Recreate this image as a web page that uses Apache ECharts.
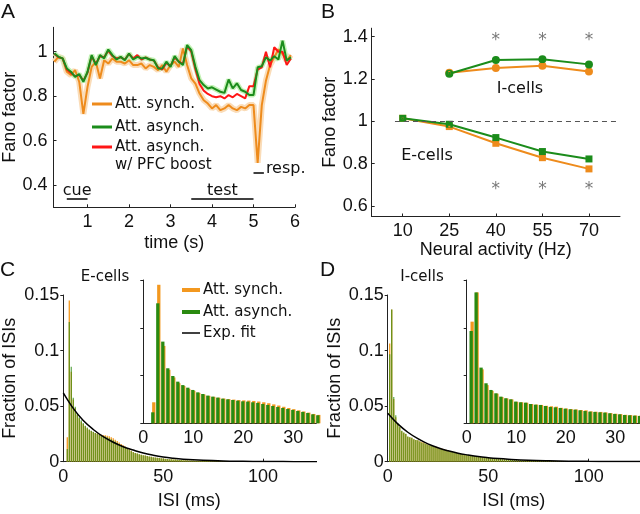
<!DOCTYPE html>
<html>
<head>
<meta charset="utf-8">
<script src="https://cdn.jsdelivr.net/npm/echarts@6.0.0/dist/echarts.min.js"></script>
<style>
  html, body { margin: 0; padding: 0; background: #fff; }
  #chart { width: 640px; height: 514px; }
</style>
</head>
<body>
<div id="chart"></div>
<script>
// ---------- panel A: Fano factor over the trial (0.1 s steps from 0.2 s) ----------
const synchA = [0.955,0.977,0.97,0.91,0.895,0.917,0.865,0.72,0.842,0.932,0.955,0.88,0.962,0.947,0.97,0.955,0.955,0.947,0.962,0.94,
  0.94,0.947,0.925,0.94,0.932,0.917,0.94,0.91,0.94,0.955,0.932,1.015,0.94,0.88,0.857,0.812,0.782,0.767,0.745,0.76,
  0.737,0.745,0.76,0.745,0.737,0.752,0.745,0.76,0.76,0.50,0.76,0.87,0.94,0.975,1.01,0.99,0.96,0.985];
const asynchA = [0.993,0.977,0.97,0.925,0.91,0.887,0.9,0.865,0.91,0.985,0.94,0.985,0.97,1.01,0.985,0.965,0.977,0.962,0.992,0.965,
  0.977,0.97,0.973,0.965,0.962,0.925,0.925,0.955,0.932,0.98,0.955,0.94,1.03,1.007,0.932,0.872,0.85,0.835,0.84,0.83,
  0.82,0.815,0.875,0.835,0.858,0.828,0.82,0.805,0.805,0.93,0.935,0.975,0.96,0.98,0.965,1.05,0.96,0.975];
const pfcA = [0.99,0.975,0.97,0.92,0.905,0.89,0.895,0.87,0.905,0.98,0.945,0.98,0.975,1.005,0.98,0.97,0.975,0.965,0.99,0.97,
  0.985,0.965,0.975,0.965,0.96,0.93,0.92,0.95,0.935,0.975,0.955,0.945,1.025,1.0,0.92,0.855,0.825,0.81,0.80,0.795,
  0.80,0.79,0.805,0.795,0.81,0.80,0.79,0.845,0.845,0.92,0.93,1.0,0.93,1.02,1.0,1.0,0.94,0.97];
const timeA = synchA.map((_, i) => +(0.2 + 0.1 * i).toFixed(1));

const epochNames = ['cue', 'test', 'resp.'];
const epochStart = [0.5, 3.5, 5.0];
const epochEnd = [1.0, 5.0, 5.25];
const epochLevel = [0.34, 0.34, 0.455];

// ---------- panel B: Fano factor vs rate ----------
const rateE = [10, 25, 40, 55, 70];
const eSynchB = [1.014, 0.975, 0.896, 0.828, 0.775];
const eAsynchB = [1.014, 0.986, 0.923, 0.857, 0.822];
const eErrB = [0.004, 0.004, 0.005, 0.005, 0.006];
const rateI = [25, 40, 55, 70];
const iSynchB = [1.23, 1.252, 1.263, 1.235];
const iAsynchB = [1.225, 1.29, 1.293, 1.269];
const iSynchErr = [0.008, 0.012, 0.012, 0.012];
const iAsynchErr = [0.008, 0.015, 0.015, 0.015];
const sigRates = [40, 55, 70];
const sigLevels = [1.4, 0.695];

// ---------- panels C, D: ISI histograms, 1 ms bins ----------
// ISI 1..35 ms
const eSynchHead = [0,0.022,0.145,0.081,0.056,0.048,0.042,0.039,0.036,0.034,0.0318,0.0302,0.0287,0.0277,0.0268,0.0259,0.0253,0.0248,
  0.0243,0.024,0.0238,0.0234,0.0228,0.022,0.021,0.0198,0.0186,0.0173,0.016,0.0148,0.0136,0.0124,0.0112,0.0098,0.0088];
const eAsynchHead = [0,0.0115,0.1256,0.0855,0.0576,0.0495,0.0436,0.040,0.0373,0.0349,0.0324,0.0307,0.029,0.0279,0.0269,0.0258,0.0251,0.0244,
  0.0237,0.023,0.0227,0.022,0.0213,0.0202,0.0192,0.0181,0.0171,0.016,0.015,0.014,0.0129,0.0119,0.0108,0.0094,0.0084];
const iSynchHead = [0.1064,0.137,0.0565,0.040,0.034,0.031,0.0275,0.026,0.025,0.0225,0.022,0.0215,0.0202,0.0196,0.0192,0.0183,0.0178,0.0174,
  0.0162,0.0155,0.0149,0.0145,0.0139,0.0136,0.0125,0.0121,0.0119,0.0114,0.0107,0.0100,0.0096,0.0089,0.0086,0.0082,0.0078];
const iAsynchHead = [0.0966,0.137,0.0583,0.0419,0.0349,0.0314,0.0279,0.0262,0.0251,0.0227,0.022,0.0216,0.0202,0.0195,0.0192,0.0181,0.0171,0.0167,
  0.016,0.0153,0.0147,0.0143,0.0136,0.0129,0.0122,0.0119,0.0115,0.0112,0.0105,0.0098,0.0094,0.0087,0.0084,0.008,0.0077];
// ISI 36..127 ms (same for both conditions)
const eTail = [0.0078,0.0073,0.0068,0.0063,0.0059,0.0055,0.0051,0.0047,0.0044,0.0041,
  0.0038,0.0035,0.0033,0.0031,0.0029,0.0027,0.0025,0.0023,0.0022,0.002,
  0.0019,0.0018,0.0016,0.0015,0.0014,0.0013,0.0012,0.0011,0.0011,0.001,
  0.0009,0.0009,0.0008,0.0008,0.0007,0.0007,0.0006,0.0006,0.0005,0.0005,
  0.0005,0.0004,0.0004,0.0004,0.0003,0.0003,0.0003,0.0003,0.0002,0.0002,
  0.0002,0.0002,0.0002,0.0002,0.0001,0.0001,0.0001,0.0001,0.0001,0.0001,
  0.0001,0.0001,0.0001,0.0001,0.0001,0.0001,0.0001,0.0001,0.0001,0.0001,
  0,0,0,0,0,0,0,0,0,0,0,0,0,0,0,0,0,0,0,0,0,0];
const iTail = [0.0074,0.0070,0.0066,0.0063,0.0060,0.0057,0.0054,0.0051,0.0048,0.0046,
  0.0043,0.0041,0.0039,0.0037,0.0035,0.0033,0.0031,0.0029,0.0028,0.0026,
  0.0025,0.0023,0.0022,0.0021,0.0020,0.0019,0.0018,0.0017,0.0016,0.0015,
  0.0014,0.0013,0.0012,0.0012,0.0011,0.0010,0.0010,0.0009,0.0009,0.0008,
  0.0008,0.0007,0.0007,0.0007,0.0006,0.0006,0.0005,0.0005,0.0005,0.0004,
  0.0004,0.0004,0.0004,0.0003,0.0003,0.0003,0.0003,0.0003,0.0002,0.0002,
  0.0002,0.0002,0.0002,0.0002,0.0002,0.0002,0.0002,0.0002,0.0002,0.0002,
  0.0001,0.0001,0.0001,0.0001,0.0001,0.0001,0.0001,0.0001,0.0001,0.0001,0.0001,
  0.0001,0.0001,0.0001,0.0001,0.0001,0.0001,0.0001,0.0001,0.0001,0.0001,0.0001];
// exponential fit
const fitX = [0,5,10,15,20,25,30,35,40,45,50,55,60,70,80,90,100,110,127];
const eFitY = [0.062,0.048,0.037,0.029,0.0225,0.0175,0.0135,0.0105,0.0078,0.0058,0.0042,0.0031,0.0023,0.0013,0.0007,0.0004,0.0002,0.0001,0];
const iFitY = [0.0435,0.034,0.0265,0.0207,0.016,0.0125,0.0098,0.0076,0.006,0.0046,0.0036,0.0028,0.0022,0.0013,0.0008,0.0005,0.0003,0.0002,0.0001];

const isiHead = eSynchHead.map((_, i) => i + 1);
const isiAll = eSynchHead.concat(eTail).map((_, i) => i + 1);

const pairs = (xs, ys) => ys.map((v, i) => [xs[i], v]);
const fmt = v => String(+v.toFixed(2));

const FONT_AX = 'Liberation Sans';
const FONT_TXT = 'DejaVu Sans';
const colSynch = '#ee8b1c';
const colAsynch = '#1b8c1b';
const colPfc = '#ff1616';
const barGreen = '#2a8a10';
const barOrange = '#f3981f';

const chart = echarts.init(document.getElementById('chart'));

const grids = [
  { left: 53.5, top: 27.3, width: 241.5, height: 180 },   // A
  { left: 371.7, top: 28.2, width: 248.3, height: 188.3 }, // B
  { left: 63.3, top: 295, width: 251.7, height: 166.7 },  // C
  { left: 143.3, top: 280, width: 173, height: 143.3 },   // C inset
  { left: 387.7, top: 295, width: 252.3, height: 166.7 }, // D
  { left: 466.7, top: 280, width: 173.3, height: 143.3 }  // D inset
].map(g => Object.assign({ outerBoundsMode: 'none', containLabel: false }, g));

function xAx(gi, min, max, ticks, name, gap) {
  return {
    type: 'value', gridIndex: gi, min: min, max: max,
    splitLine: { show: false },
    axisLine: { lineStyle: { color: '#222', width: 1 } },
    axisTick: { inside: true, length: 3, customValues: ticks, lineStyle: { color: '#222' } },
    axisLabel: { customValues: ticks, formatter: fmt, color: '#111', fontFamily: FONT_AX, fontSize: 18, margin: 6 },
    name: name, nameLocation: 'middle', nameGap: gap,
    nameTextStyle: { color: '#111', fontFamily: FONT_AX, fontSize: 18 }
  };
}
function yAx(gi, min, max, ticks, labels, name, gap, inside, margin) {
  return {
    type: 'value', gridIndex: gi, min: min, max: max,
    splitLine: { show: false },
    axisLine: { lineStyle: { color: '#222', width: 1 } },
    axisTick: { inside: inside, length: 3, customValues: ticks, lineStyle: { color: '#222' } },
    axisLabel: { show: labels, customValues: ticks, formatter: fmt, color: '#111', fontFamily: FONT_AX, fontSize: 18, margin: margin },
    name: name, nameLocation: 'middle', nameGap: gap,
    nameTextStyle: { color: '#111', fontFamily: FONT_AX, fontSize: 18 }
  };
}

const xAxes = [
  xAx(0, 0.18, 6, [1, 2, 3, 4, 5, 6], 'time (s)', 27),
  xAx(1, 0, 80, [10, 25, 40, 55, 70], 'Neural activity (Hz)', 22),
  xAx(2, 0, 126, [0, 50, 100], 'ISI (ms)', 30),
  xAx(3, 0, 34.6, [0, 10, 20, 30], '', 0),
  xAx(4, 0, 125.5, [0, 50, 100], 'ISI (ms)', 30),
  xAx(5, 0, 35, [0, 10, 20, 30], '', 0)
];
const yAxes = [
  yAx(0, 0.3, 1.11, [0.4, 0.6, 0.8, 1], true, 'Fano factor', 34, true, 6),
  yAx(1, 0.55, 1.44, [0.6, 0.8, 1, 1.2, 1.4], true, 'Fano factor', 31, true, 4),
  yAx(2, 0, 0.15, [0, 0.05, 0.1, 0.15], true, 'Fraction of ISIs', 44, false, 4),
  yAx(3, 0, 0.15, [0, 0.05, 0.1, 0.15], false, '', 0, false, 4),
  yAx(4, 0, 0.15, [0, 0.05, 0.1, 0.15], true, 'Fraction of ISIs', 44, false, 4),
  yAx(5, 0, 0.15, [0, 0.05, 0.1, 0.15], false, '', 0, false, 4)
];

const series = [];

// A: shaded error bands, then the mean lines
series.push({
  type: 'line', xAxisIndex: 0, yAxisIndex: 0, data: pairs(timeA, synchA), symbol: 'none', silent: true, z: 1,
  lineStyle: { width: 6, color: '#fadcb8' },
  markLine: {
    symbol: 'none', silent: true,
    lineStyle: { color: '#000', width: 1.5, type: 'solid' },
    data: epochNames.map((n, i) => [
      { coord: [epochStart[i], epochLevel[i]], name: n,
        label: { show: true, formatter: n, position: i === 2 ? 'end' : 'insideMiddleTop', distance: i === 2 ? [2, 0] : 0,
          color: '#111', fontFamily: FONT_TXT, fontSize: 16, offset: i === 2 ? [0, -4] : [0, 0] } },
      { coord: [epochEnd[i], epochLevel[i]] }
    ])
  }
});
series.push({
  type: 'line', xAxisIndex: 0, yAxisIndex: 0, data: pairs(timeA, asynchA), symbol: 'none', silent: true, z: 1,
  lineStyle: { width: 5, color: '#c4f2b6' }
});
series.push({ type: 'line', xAxisIndex: 0, yAxisIndex: 0, data: pairs(timeA, synchA), symbol: 'none', z: 3,
  lineStyle: { width: 2, color: colSynch } });
series.push({ type: 'line', xAxisIndex: 0, yAxisIndex: 0, data: pairs(timeA, pfcA), symbol: 'none', z: 4,
  lineStyle: { width: 2, color: colPfc } });
series.push({ type: 'line', xAxisIndex: 0, yAxisIndex: 0, data: pairs(timeA, asynchA), symbol: 'none', z: 5,
  lineStyle: { width: 2, color: colAsynch } });

// B
function errBars(xs, ys, es, color) {
  return {
    type: 'custom', xAxisIndex: 1, yAxisIndex: 1, z: 6, silent: true,
    data: ys.map((v, i) => [xs[i], v, es[i]]),
    renderItem: (params, api) => {
      const x = api.value(0), y = api.value(1), e = api.value(2);
      const p1 = api.coord([x, y - e]), p2 = api.coord([x, y + e]);
      return { type: 'line', shape: { x1: p1[0], y1: p1[1], x2: p2[0], y2: p2[1] }, style: { stroke: color, lineWidth: 2 } };
    }
  };
}
series.push({
  type: 'line', xAxisIndex: 1, yAxisIndex: 1, data: pairs(rateE, eSynchB), z: 3,
  symbol: 'rect', symbolSize: 7, lineStyle: { width: 2, color: colSynch }, itemStyle: { color: colSynch },
  markLine: {
    symbol: 'none', silent: true, label: { show: false },
    lineStyle: { color: '#555', width: 1, type: [5, 4] },
    data: [[{ coord: [7.5, 1] }, { coord: [80, 1] }]]
  }
});
series.push({ type: 'line', xAxisIndex: 1, yAxisIndex: 1, data: pairs(rateE, eAsynchB), z: 4,
  symbol: 'rect', symbolSize: 7, lineStyle: { width: 2, color: colAsynch }, itemStyle: { color: colAsynch } });
series.push({ type: 'line', xAxisIndex: 1, yAxisIndex: 1, data: pairs(rateI, iSynchB), z: 3,
  symbol: 'circle', symbolSize: 8, lineStyle: { width: 2, color: colSynch }, itemStyle: { color: colSynch } });
series.push({ type: 'line', xAxisIndex: 1, yAxisIndex: 1, data: pairs(rateI, iAsynchB), z: 4,
  symbol: 'circle', symbolSize: 8, lineStyle: { width: 2, color: colAsynch }, itemStyle: { color: colAsynch } });
series.push(errBars(rateE, eSynchB, eErrB, colSynch));
series.push(errBars(rateE, eAsynchB, eErrB, colAsynch));
series.push(errBars(rateI, iSynchB, iSynchErr, colSynch));
series.push(errBars(rateI, iAsynchB, iAsynchErr, colAsynch));
series.push({
  type: 'scatter', xAxisIndex: 1, yAxisIndex: 1, silent: true, symbolSize: 1,
  itemStyle: { color: 'rgba(0,0,0,0)' },
  data: sigLevels.flatMap(l => sigRates.map(r => [r, l])),
  label: { show: true, formatter: '*', position: 'inside', color: '#555', fontFamily: FONT_TXT, fontSize: 17, offset: [0, 4] }
});

// C, D histograms
function histSeries(xi, xs, green, orange, bw, gap, greenAlpha) {
  return [
    { type: 'bar', xAxisIndex: xi, yAxisIndex: xi, data: pairs(xs, green), barWidth: bw, barGap: gap, z: 3,
      itemStyle: { color: barGreen, opacity: greenAlpha }, silent: true },
    { type: 'bar', xAxisIndex: xi, yAxisIndex: xi, data: pairs(xs, orange), barWidth: bw, barGap: gap, z: 2,
      itemStyle: { color: barOrange }, silent: true }
  ];
}
series.push(...histSeries(2, isiAll, eAsynchHead.concat(eTail), eSynchHead.concat(eTail), 1.3, '-100%', 0.7));
series.push(...histSeries(3, isiHead, eAsynchHead, eSynchHead, 3.3, '-70%', 1));
series.push(...histSeries(4, isiAll, iAsynchHead.concat(iTail), iSynchHead.concat(iTail), 1.3, '-100%', 0.7));
series.push(...histSeries(5, isiHead, iAsynchHead, iSynchHead, 3.3, '-70%', 1));
series.push({ type: 'line', xAxisIndex: 2, yAxisIndex: 2, data: pairs(fitX, eFitY), smooth: 0.4, symbol: 'none', z: 6,
  lineStyle: { width: 1.5, color: '#000' } });
series.push({ type: 'line', xAxisIndex: 4, yAxisIndex: 4, data: pairs(fitX, iFitY), smooth: 0.4, symbol: 'none', z: 6,
  lineStyle: { width: 1.5, color: '#000' } });

// letters, legends and labels
function txt(x, y, s, size, font, align) {
  return { type: 'text', x: x, y: y, z: 20,
    style: { text: s, fill: '#111', font: size + 'px "' + font + '"', align: align || 'left', verticalAlign: 'middle' } };
}
function seg(x1, x2, y, color, w) {
  return { type: 'line', z: 20, shape: { x1: x1, y1: y, x2: x2, y2: y }, style: { stroke: color, lineWidth: w } };
}
const graphic = [
  txt(1, 12, 'A', 21, FONT_AX), txt(321, 12, 'B', 21, FONT_AX),
  txt(0, 270, 'C', 21, FONT_AX), txt(320, 270, 'D', 21, FONT_AX),
  seg(92, 112, 104, colSynch, 3), txt(115, 104, 'Att. synch.', 15, FONT_TXT),
  seg(92, 112, 127, colAsynch, 3), txt(115, 127, 'Att. asynch.', 15, FONT_TXT),
  seg(92, 112, 147, colPfc, 3), txt(115, 147, 'Att. asynch.', 15, FONT_TXT),
  txt(115, 165, 'w/ PFC boost', 15, FONT_TXT),
  txt(520, 89, 'I-cells', 16, FONT_TXT, 'center'), txt(427, 156, 'E-cells', 16, FONT_TXT, 'center'),
  txt(105, 277, 'E-cells', 15, FONT_TXT, 'center'), txt(422, 277, 'I-cells', 15, FONT_TXT, 'center'),
  seg(182, 200, 290, barOrange, 4), txt(203, 290, 'Att. synch.', 15, FONT_TXT),
  seg(182, 200, 312, barGreen, 4), txt(203, 312, 'Att. asynch.', 15, FONT_TXT),
  seg(182, 200, 333, '#000', 1.5), txt(203, 333, 'Exp. fit', 15, FONT_TXT)
];

chart.setOption({
  animation: false,
  backgroundColor: '#fff',
  grid: grids,
  xAxis: xAxes,
  yAxis: yAxes,
  series: series,
  graphic: graphic
});
</script>
</body>
</html>
